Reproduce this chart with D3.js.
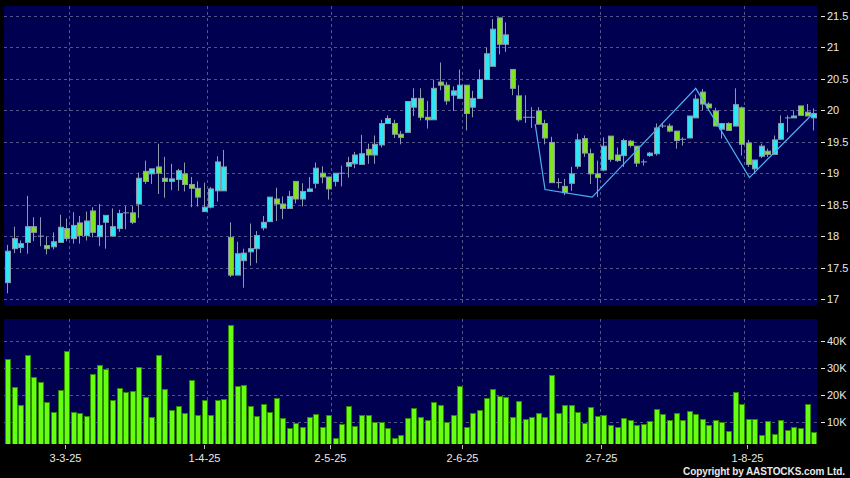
<!DOCTYPE html>
<html><head><meta charset="utf-8">
<script src="https://cdn.jsdelivr.net/npm/d3@7"></script>
<style>
html,body{margin:0;padding:0;background:#000;}
svg{display:block;}
text{font-family:"Liberation Sans",Arial,sans-serif;}
</style></head>
<body><svg id="chart" width="850" height="478"></svg>
<script>
const dates = [
"2025-02-17","2025-02-18","2025-02-19","2025-02-20","2025-02-21","2025-02-24","2025-02-25","2025-02-26","2025-02-27","2025-02-28",
"2025-03-03","2025-03-04","2025-03-05","2025-03-06","2025-03-07","2025-03-10","2025-03-11","2025-03-12","2025-03-13","2025-03-14",
"2025-03-17","2025-03-18","2025-03-19","2025-03-20","2025-03-21","2025-03-24","2025-03-25","2025-03-26","2025-03-27","2025-03-28","2025-03-31",
"2025-04-01","2025-04-02","2025-04-03","2025-04-07","2025-04-08","2025-04-09","2025-04-10","2025-04-11","2025-04-14","2025-04-15",
"2025-04-16","2025-04-17","2025-04-22","2025-04-23","2025-04-24","2025-04-25","2025-04-28","2025-04-29","2025-04-30",
"2025-05-02","2025-05-06","2025-05-07","2025-05-08","2025-05-09","2025-05-12","2025-05-13","2025-05-14","2025-05-15","2025-05-16",
"2025-05-19","2025-05-20","2025-05-21","2025-05-22","2025-05-23","2025-05-26","2025-05-27","2025-05-28","2025-05-29","2025-05-30",
"2025-06-02","2025-06-03","2025-06-04","2025-06-05","2025-06-06","2025-06-09","2025-06-10","2025-06-11","2025-06-12","2025-06-13",
"2025-06-16","2025-06-17","2025-06-18","2025-06-19","2025-06-20","2025-06-23","2025-06-24","2025-06-25","2025-06-26","2025-06-27","2025-06-30",
"2025-07-02","2025-07-03","2025-07-04","2025-07-07","2025-07-08","2025-07-09","2025-07-10","2025-07-11","2025-07-14","2025-07-15",
"2025-07-16","2025-07-17","2025-07-18","2025-07-21","2025-07-22","2025-07-23","2025-07-24","2025-07-25","2025-07-28","2025-07-29","2025-07-30","2025-07-31",
"2025-08-01","2025-08-04","2025-08-05","2025-08-06","2025-08-07","2025-08-08","2025-08-11","2025-08-12","2025-08-13","2025-08-14","2025-08-15"
];

const open = [
17.26,17.80,17.82,17.90,18.15,18.00,17.85,17.83,17.90,18.12,
17.96,18.21,18.01,18.40,17.99,18.22,18.00,18.12,18.37,18.37,
18.51,19.03,18.99,19.10,18.92,18.87,18.90,18.99,18.82,18.76,18.39,
18.46,18.72,18.72,17.98,17.38,17.61,17.75,17.80,18.13,18.23,
18.59,18.51,18.44,18.87,18.59,18.71,18.84,19.00,18.94,
18.87,19.00,19.11,19.15,19.14,19.38,19.29,19.45,19.79,19.79,
19.62,19.65,20.05,20.19,19.89,19.85,20.45,20.40,20.24,20.19,
20.40,20.05,20.19,20.49,20.70,21.47,21.05,20.65,20.23,19.89,
19.89,19.99,19.79,19.49,18.85,18.79,18.84,19.11,19.55,19.31,18.99,
19.05,19.59,19.29,19.28,19.51,19.43,19.18,19.28,19.31,19.75,
19.75,19.67,19.54,19.56,19.88,20.29,20.10,19.99,19.70,19.79,19.75,20.04,
19.48,19.07,19.27,19.35,19.30,19.54,19.88,19.88,20.07,19.97,19.88
];
const high = [
17.86,18.15,17.93,18.64,18.30,18.30,17.99,18.06,18.34,18.28,
18.38,18.32,18.39,18.46,18.51,18.33,18.44,18.42,18.48,18.48,
19.01,19.20,19.07,19.47,19.26,19.15,19.07,19.17,18.94,18.87,18.85,
18.78,19.27,19.37,18.22,17.91,17.80,18.20,18.08,18.32,18.62,
18.77,18.63,18.72,18.87,18.84,18.94,19.17,19.11,18.94,
19.00,19.12,19.26,19.34,19.61,19.47,19.60,19.85,19.92,19.85,
19.67,20.14,20.35,20.35,20.15,20.49,20.76,20.45,20.38,20.65,
20.40,20.31,20.65,21.00,21.45,21.47,21.40,20.65,20.40,20.24,
20.05,20.05,19.85,19.58,18.92,18.91,19.10,19.63,19.60,19.39,19.20,
19.57,19.59,19.41,19.55,19.53,19.43,19.22,19.34,19.79,19.80,
19.79,19.67,19.57,19.91,20.25,20.34,20.13,20.04,19.79,19.81,20.35,20.06,
19.53,19.21,19.47,19.39,19.60,19.92,19.92,20.00,20.07,20.10,20.03
];
const low = [
17.09,17.73,17.73,17.72,17.92,17.84,17.71,17.79,17.90,17.92,
17.88,17.88,17.93,17.98,17.84,17.80,18.00,18.07,18.11,18.19,
18.29,18.83,18.83,18.67,18.61,18.73,18.72,18.71,18.46,18.47,18.39,
18.44,18.55,18.72,17.35,17.38,17.18,17.53,17.57,18.09,18.23,
18.24,18.27,18.44,18.52,18.47,18.71,18.76,18.84,18.58,
18.79,18.79,18.93,19.08,19.14,19.15,19.15,19.41,19.79,19.56,
19.46,19.65,19.91,19.84,19.71,19.85,20.32,20.09,19.99,20.19,
19.68,19.89,20.19,20.49,20.70,20.89,20.93,20.24,19.82,19.80,
19.72,19.78,19.46,18.85,18.76,18.65,18.72,19.07,19.26,18.83,18.62,
19.03,19.18,19.18,19.10,19.41,19.10,19.12,19.26,19.28,19.72,
19.65,19.39,19.44,19.56,19.88,20.00,20.00,19.75,19.55,19.68,19.75,19.28,
19.10,18.99,19.24,19.26,19.30,19.54,19.65,19.88,19.92,19.91,19.68
];
const close = [
17.76,17.96,17.88,18.15,18.06,18.00,17.80,17.91,18.14,17.96,
18.17,18.01,18.24,18.06,18.17,18.33,18.15,18.36,18.37,18.22,
18.92,18.87,19.07,19.00,18.87,18.91,19.04,18.82,18.76,18.62,18.46,
18.75,19.18,19.10,17.38,17.72,17.73,17.80,18.01,18.22,18.62,
18.51,18.44,18.63,18.59,18.71,18.75,19.08,18.94,18.75,
19.00,19.00,19.17,19.29,19.31,19.29,19.46,19.79,19.87,19.62,
19.57,20.14,20.19,19.89,19.85,20.35,20.40,20.15,20.31,20.40,
19.95,20.19,20.49,20.90,21.29,21.05,21.20,20.35,19.85,19.89,
19.89,19.78,19.56,18.85,18.85,18.69,18.99,19.53,19.32,18.99,18.93,
19.43,19.22,19.20,19.52,19.44,19.16,19.18,19.32,19.72,19.75,
19.67,19.52,19.54,19.91,20.18,20.10,20.04,19.75,19.79,19.68,20.09,19.46,
19.14,19.21,19.43,19.30,19.53,19.79,19.88,19.91,19.92,19.91,19.95
];
// volume in thousands
const volume = [
33.2,22.8,16.3,34.7,26.7,24.8,17.3,13.5,21.7,36.4,
13.6,13.3,12.2,27.7,31.1,29.5,18.0,22.6,20.9,21.3,
30.4,19.2,11.7,34.8,22.3,14.3,15.7,13.1,25.4,12.5,18.0,
12.4,18.1,18.4,45.8,23.3,23.8,15.7,12.2,16.6,13.7,
18.7,11.4,7.5,9.4,8.0,11.9,13.0,7.9,12.4,
3.8,9.1,16.0,8.4,12.4,12.6,9.9,9.9,7.8,4.1,
5.2,11.3,15.2,11.9,10.6,17.3,16.1,9.9,12.6,23.2,
7.9,13.1,14.3,18.7,22.0,19.4,19.2,11.6,17.6,11.0,
11.9,13.3,11.6,27.5,13.1,16.1,16.1,13.7,9.6,15.5,12.1,
12.6,8.7,7.9,11.3,10.6,8.9,9.1,10.3,14.6,12.7,
10.6,13.1,10.6,13.9,12.9,10.9,8.7,10.5,9.9,6.5,21.0,16.7,
11.0,11.1,5.1,10.3,5.5,10.5,6.9,8.0,7.8,16.6,6.1
];

const labelDates = ["2025-03-03","2025-04-01","2025-05-02","2025-06-02","2025-07-02","2025-08-01"];
const labelTexts = ["3-3-25","1-4-25","2-5-25","2-6-25","2-7-25","1-8-25"];
const priceTicks = [17,17.5,18,18.5,19,19.5,20,20.5,21,21.5];
const volTicks = [10,20,30,40];

// zigzag trend line (index position, price)
const zigIdx = [81.1,82.6,89.8,105.6,113.8,123.5];
const zigPrice = [19.78,18.74,18.62,20.35,18.93,19.95];

const svg = d3.select("#chart");
const W = 850, H = 478;
svg.append("rect").attr("width",W).attr("height",H).attr("fill","#000");

const P = {l:4, r:817, t:6, b:306};
const V = {t:319, b:444};

const x = d3.scaleBand().domain(dates).range([3.77, 816.3]).paddingInner(0).paddingOuter(0);
const xLab = d3.scaleBand().domain(dates).range([-4.3, 816.2]);
const xIdx = d3.scaleLinear().domain([0, dates.length]).range([3.77, 816.3]);
const y = d3.scaleLinear().domain([17, 21.5]).range([299, 16]);
const yV = d3.scaleLinear().domain([0, 40]).range([448.6, 341]);

const navy = "#000050";
const gridC = "#55558a";
const textC = "#e8e8e8";

svg.append("rect").attr("x",P.l).attr("y",P.t).attr("width",P.r-P.l).attr("height",P.b-P.t).attr("fill",navy);
svg.append("rect").attr("x",P.l).attr("y",V.t).attr("width",P.r-P.l).attr("height",V.b-V.t).attr("fill",navy);

const defs = svg.append("defs");
defs.append("clipPath").attr("id","clipP").append("rect").attr("x",P.l).attr("y",P.t).attr("width",P.r-P.l).attr("height",P.b-P.t);
defs.append("clipPath").attr("id","clipV").append("rect").attr("x",P.l).attr("y",V.t).attr("width",P.r-P.l).attr("height",V.b-V.t);

// grid
const g = svg.append("g");
priceTicks.forEach(v=>{
  const yy = Math.round(y(v))+0.5;
  g.append("line").attr("x1",P.l).attr("x2",P.r).attr("y1",yy).attr("y2",yy)
   .attr("stroke",gridC).attr("stroke-dasharray","3,3");
});
volTicks.forEach(v=>{
  const yy = Math.round(yV(v))+0.5;
  g.append("line").attr("x1",P.l).attr("x2",P.r).attr("y1",yy).attr("y2",yy)
   .attr("stroke",gridC).attr("stroke-dasharray","3,3");
});
labelDates.forEach(d=>{
  const xx = Math.round(x(d))+0.5;
  g.append("line").attr("x1",xx).attr("x2",xx).attr("y1",P.t).attr("y2",P.b)
   .attr("stroke",gridC).attr("stroke-dasharray","3,3");
  g.append("line").attr("x1",xx).attr("x2",xx).attr("y1",V.t).attr("y2",V.b)
   .attr("stroke",gridC).attr("stroke-dasharray","3,3");
});

// candles
const cg = svg.append("g").attr("clip-path","url(#clipP)");
const bw = 5;
const candles = dates.map((d,i)=>({d,o:open[i],h:high[i],l:low[i],c:close[i]}));
const wickC = "#8c9aae";
cg.selectAll("line.wick").data(candles).join("line")
  .attr("x1",d=>Math.floor(x(d.d)+1.4+bw/2)+0.5).attr("x2",d=>Math.floor(x(d.d)+1.4+bw/2)+0.5)
  .attr("y1",d=>y(d.h)).attr("y2",d=>y(d.l))
  .attr("stroke",wickC).attr("stroke-width",1);
cg.selectAll("rect.body").data(candles).join("rect")
  .attr("x",d=>Math.round(x(d.d)+1.4)+0.5)
  .attr("width",bw)
  .attr("y",d=>y(Math.max(d.o,d.c)))
  .attr("height",d=>Math.max(Math.abs(y(d.o)-y(d.c)),0.01))
  .attr("fill",d=>d.c>d.o?"#2ee6f4":(d.c<d.o?"#80e420":wickC))
  .attr("stroke",wickC).attr("stroke-width",1);

// zigzag
const zig = zigIdx.map((v,i)=>[xIdx(v), y(zigPrice[i])]);
cg.append("path").attr("d",d3.line()(zig)).attr("fill","none")
  .attr("stroke","#4fb0f0").attr("stroke-width",1.2);

// volume
const vg = svg.append("g").attr("clip-path","url(#clipV)");
vg.selectAll("rect.vol").data(dates.map((d,i)=>({d,v:volume[i]}))).join("rect")
  .attr("x",d=>Math.round(x(d.d)+1.4)+0.5)
  .attr("width",bw)
  .attr("y",d=>Math.round(yV(d.v))+0.5)
  .attr("height",d=>V.b+2-Math.round(yV(d.v)))
  .attr("fill","#66ff11").attr("stroke","#2c8a00").attr("stroke-width",1);

// right axes
const ax = svg.append("g");
priceTicks.forEach(v=>{
  const yy = Math.round(y(v))+0.5;
  ax.append("line").attr("x1",821).attr("x2",825).attr("y1",yy).attr("y2",yy).attr("stroke",textC);
  ax.append("text").attr("x",827).attr("y",yy).attr("dy","0.36em")
    .attr("font-size",11).attr("fill",textC).text(d3.format("")(v));
});
volTicks.forEach(v=>{
  const yy = Math.round(yV(v))+0.5;
  ax.append("line").attr("x1",821).attr("x2",825).attr("y1",yy).attr("y2",yy).attr("stroke",textC);
  ax.append("text").attr("x",827).attr("y",yy).attr("dy","0.36em")
    .attr("font-size",11).attr("fill",textC).text(v+"K");
});

// bottom axis
labelDates.forEach((d,i)=>{
  const xx = Math.round(xLab(d)+xLab.bandwidth()/2)+0.5;
  ax.append("line").attr("x1",xx).attr("x2",xx).attr("y1",V.b+1).attr("y2",V.b+5).attr("stroke","#bbb");
  ax.append("text").attr("x",xx).attr("y",461.5).attr("text-anchor","middle")
    .attr("font-size",11).attr("fill",textC).text(labelTexts[i]);
});

svg.append("text").attr("x",683).attr("y",475)
  .attr("font-size",10).attr("font-weight","600").attr("textLength",162).attr("lengthAdjust","spacing")
  .attr("fill",textC)
  .text("Copyright by AASTOCKS.com Ltd.");
</script></body></html>
